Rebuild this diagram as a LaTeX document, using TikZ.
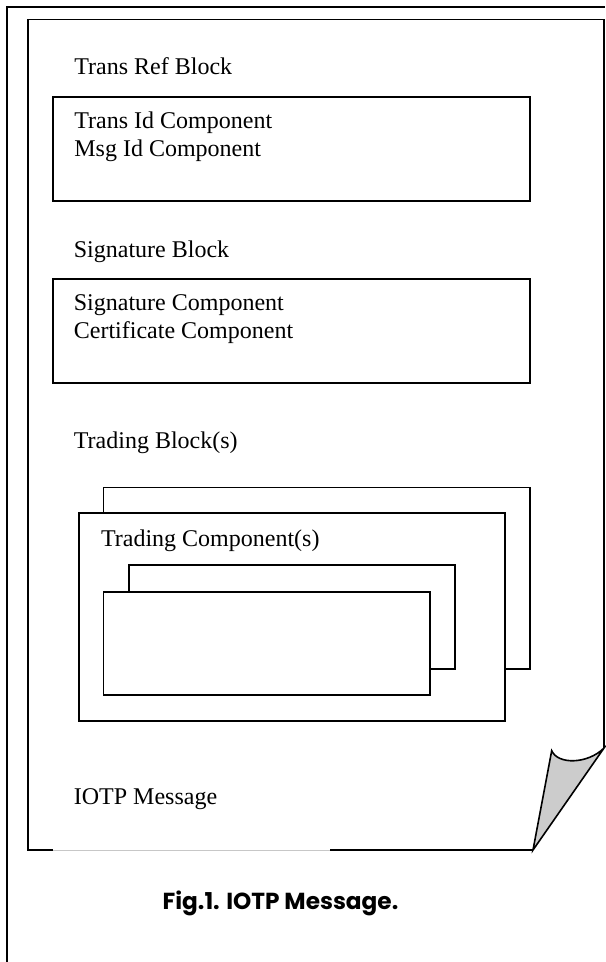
\documentclass[tikz,border=0pt]{standalone}
\usepackage{fontspec}
\setmainfont{Liberation Serif}
\newfontfamily\capfont{Poppins}
\usetikzlibrary{positioning}

\begin{document}
\begin{tikzpicture}[
    x=0.5pt, y=-0.5pt,
    frame/.style={line width=1.2pt},
    pageline/.style={line width=0.8pt,line join=miter},
    blockbox/.style={line width=0.8pt},
    lbl/.style={anchor=base west,inner sep=0pt,font=\fontsize{12}{14}\selectfont},
  ]
  \useasboundingbox (0,0) rectangle (605,962);

  % --- outer frame (top and left edges only)
  \draw[frame] (7,962) -- (7,7) -- (605,7);

  % --- the message page, with its turned-down corner
  \draw[pageline] (53,850) -- (28,850) -- (28,19.5) -- (604,19.5) -- (604,748);
  \draw[pageline] (330,850) -- (533,850);
  \draw[black!22,line width=0.4pt] (53,850) -- (330,850);
  \draw[pageline,fill=black!20] (533,850) -- (551.7,750.7)
    .. controls (558,765) and (588,764) .. (604,748) -- cycle;

  % --- trans ref block
  \node[lbl] (transref) at (74,75) {Trans Ref Block};
  \draw[blockbox] (53,97) rectangle (530,201);
  \node[lbl] (transid) at (74,128.7) {Trans Id Component};
  \node[lbl] (msgid)   at (74,156.3) {Msg Id Component};

  % --- signature block
  \node[lbl] (sigblock) at (73.5,258) {Signature Block};
  \draw[blockbox] (53,279) rectangle (530,383);
  \node[lbl] (sigcomp)  at (73.5,310.7) {Signature Component};
  \node[lbl] (certcomp) at (73.5,338.3) {Certificate Component};

  % --- trading block(s): two stacked frames, two stacked components inside
  \node[lbl] (tradblock) at (73.5,448) {Trading Block(s)};
  \draw[blockbox,fill=white] (103.3,487.3) rectangle (530,669);
  \draw[blockbox,fill=white] (79,512.7) rectangle (505,721);
  \node[lbl] (tradcomp) at (100.7,546.7) {Trading Component(s)};
  \draw[blockbox,fill=white] (129,565) rectangle (455,669);
  \draw[blockbox,fill=white] (103.3,591.7) rectangle (430,695);

  % --- page label and caption
  \node[lbl] (iotp) at (73.5,804) {IOTP Message};
  \node[anchor=base,inner sep=0pt,font=\capfont\bfseries\fontsize{11.6}{13}\selectfont]
    (caption) at (280.5,909) {Fig.1. IOTP Message.};

\end{tikzpicture}
\end{document}
